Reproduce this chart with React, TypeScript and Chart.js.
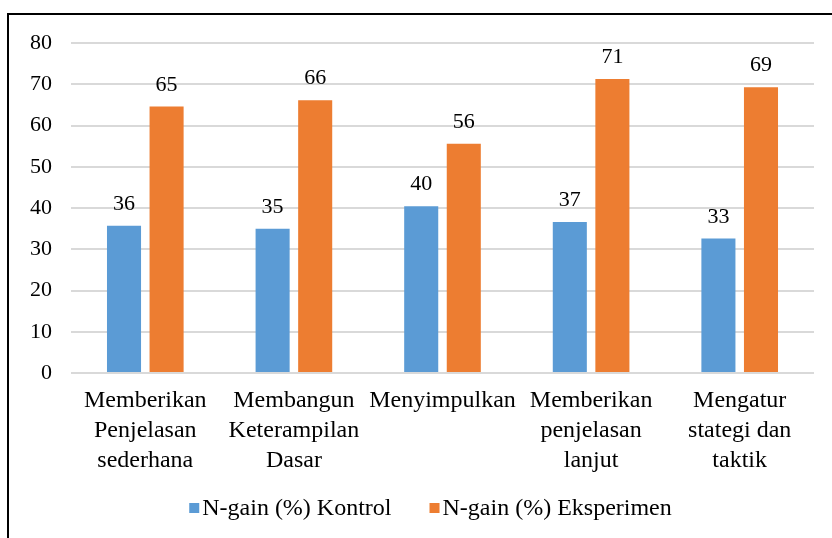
import React, { useEffect, useRef } from "react";
import { Chart, registerables } from "chart.js";

Chart.register(...registerables);

const categories: string[][] = [
  ["Memberikan", "Penjelasan", "sederhana"],
  ["Membangun", "Keterampilan", "Dasar"],
  ["Menyimpulkan"],
  ["Memberikan", "penjelasan", "lanjut"],
  ["Mengatur", "stategi dan", "taktik"],
];
const kontrolValues = [35.7, 35.0, 40.4, 36.6, 32.6];
const eksperimenValues = [64.6, 66.1, 55.6, 71.3, 69.3];
const seriesNames = ["N-gain (%) Kontrol", "N-gain (%) Eksperimen"];
const seriesColors = ["#5B9BD5", "#ED7D31"];
const yMin = 0;
const yMax = 80;
const yStep = 10;

const FONT = "'Liberation Serif', 'Times New Roman', serif";

const valueLabels = {
  id: "valueLabels",
  afterDatasetsDraw(chart: any) {
    const ctx = chart.ctx;
    ctx.save();
    ctx.font = `22px ${FONT}`;
    ctx.fillStyle = "#000";
    ctx.textAlign = "center";
    ctx.textBaseline = "alphabetic";
    chart.data.datasets.forEach((ds: any, di: number) => {
      const meta = chart.getDatasetMeta(di);
      meta.data.forEach((bar: any, i: number) => {
        const v = ds.data[i];
        ctx.fillText(String(Math.round(v)), bar.x, bar.y - 16);
      });
    });
    ctx.restore();
  },
};

const customLegend = {
  id: "customLegend",
  afterDraw(chart: any) {
    const ctx = chart.ctx;
    ctx.save();
    ctx.font = `24px ${FONT}`;
    ctx.textBaseline = "middle";
    ctx.textAlign = "left";
    const box = 10;
    const gap = 3;
    const itemGap = 38;
    const items = chart.data.datasets.map((ds: any) => ({
      label: ds.label,
      color: ds.backgroundColor,
      w: box + gap + ctx.measureText(ds.label).width,
    }));
    const total = items.reduce((s: number, it: any) => s + it.w, 0) + itemGap * (items.length - 1);
    const cy = chart.chartArea.bottom + 135;
    let x = (chart.chartArea.left + chart.chartArea.right) / 2 - 12 - total / 2;
    items.forEach((it: any) => {
      ctx.fillStyle = it.color;
      ctx.fillRect(x, cy - box / 2, box, box);
      ctx.fillStyle = "#000";
      ctx.fillText(it.label, x + box + gap, cy + 1);
      x += it.w + itemGap;
    });
    ctx.restore();
  },
};

export default function App() {
  const ref = useRef<HTMLCanvasElement>(null);
  useEffect(() => {
    if (!ref.current) return;
    const chart = new Chart(ref.current, {
      type: "bar",
      data: {
        labels: categories,
        datasets: [
          {
            label: seriesNames[0],
            data: kontrolValues,
            backgroundColor: seriesColors[0],
            categoryPercentage: 0.573,
            barPercentage: 0.8,
          },
          {
            label: seriesNames[1],
            data: eksperimenValues,
            backgroundColor: seriesColors[1],
            categoryPercentage: 0.573,
            barPercentage: 0.8,
          },
        ],
      },
      options: {
        animation: false,
        responsive: false,
        layout: { padding: { left: 11, right: 18, top: 43, bottom: 49 } },
        plugins: {
          legend: { display: false },
          tooltip: { enabled: false },
        },
        scales: {
          x: {
            grid: { display: false, drawTicks: false },
            border: { display: false },
            ticks: {
              color: "#000",
              font: { family: FONT, size: 24, lineHeight: 1.25 },
              padding: 13,
              maxRotation: 0,
              autoSkip: false,
            },
          },
          y: {
            min: yMin,
            max: yMax,
            grid: { color: "#D9D9D9", lineWidth: 2, drawTicks: false },
            border: { display: false },
            ticks: {
              stepSize: yStep,
              color: "#000",
              font: { family: FONT, size: 22 },
              padding: 19,
            },
          },
        },
      },
      plugins: [valueLabels, customLegend],
    });
    return () => chart.destroy();
  }, []);

  return (
    <div style={{ position: "fixed", left: 0, top: 0, width: 832, height: 538, overflow: "hidden", background: "#fff" }}>
      <canvas ref={ref} width={832} height={538} style={{ position: "absolute", left: 0, top: 0 }} />
      <div
        style={{
          position: "absolute",
          left: 7,
          top: 13,
          width: 900,
          height: 600,
          borderLeft: "2px solid #000",
          borderTop: "2px solid #000",
          pointerEvents: "none",
        }}
      />
    </div>
  );
}
